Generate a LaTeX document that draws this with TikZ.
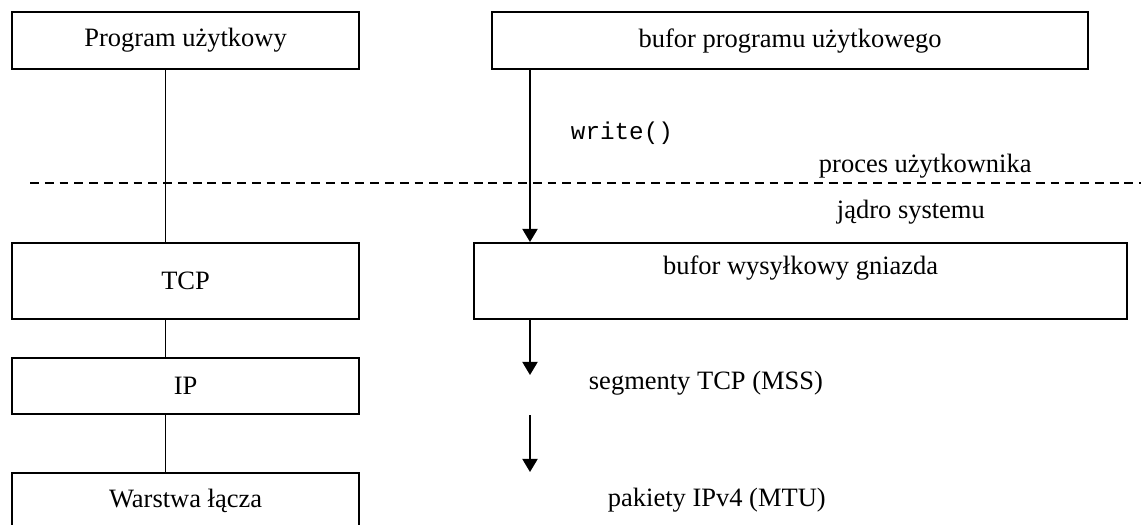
\documentclass[tikz,border=0pt]{standalone}
\usepackage{fontspec}
\setmainfont{Liberation Serif}
\setmonofont{Liberation Mono}
\usetikzlibrary{arrows.meta}

\begin{document}
\begin{tikzpicture}[x=0.453pt, y=-0.453pt, >={Triangle[length=5.9pt, width=6.8pt]}, line width=0.85pt]
  % Set the node styles
  \tikzset{layerbox/.style={draw, rectangle, line width=1pt, inner sep=0pt, anchor=north west, font=\fontsize{12}{14}\selectfont},
           note/.style={anchor=west, inner sep=0pt, font=\fontsize{12}{14}\selectfont}}

  \useasboundingbox (0,0) rectangle (1141,524);

  % Draw the layer boxes
  \foreach \name/\x/\y/\w/\h/\label in {prog/11/11/347/57/Program użytkowy,
      bufapp/491/11/596/57/bufor programu użytkowego,
      tcp/11/242/347/76/TCP, ip/11/357/347/56/IP, link/11/472/347/56/Warstwa łącza}{
    \node[layerbox, minimum width=\w*0.453pt, minimum height=\h*0.453pt] (\name) at (\x,\y) {\label};
  }
  \node[layerbox, minimum width=653*0.453pt, text height=14pt, text depth=20.4pt] (bufsock) at (473,242) {bufor wysyłkowy gniazda};

  % Draw the labels
  \node[note, font=\fontsize{11}{13}\selectfont\ttfamily] (write) at (570,133) {write()};
  \node[note] (user) at (818,166) {proces użytkownika};
  \node[note] (kernel) at (836,212) {jądro systemu};
  \node[note] (seg) at (588,383) {segmenty TCP (MSS)};
  \node[note] (pkt) at (607,500) {pakiety IPv4 (MTU)};

  % Separate user space from kernel
  \coordinate (sepL) at (30,183);
  \coordinate (sepR) at (1141,183);
  \draw[dash pattern=on 4pt off 2.7pt] (sepL) -- (sepR);

  % Connect the stack and the data flow
  \coordinate (spine) at (165.5,0);
  \coordinate (flow) at (530,0);
  \coordinate (segtip) at (530,375);
  \draw (prog.south -| spine) -- (tcp.north -| spine);
  \draw (tcp.south -| spine) -- (ip.north -| spine);
  \draw (ip.south -| spine) -- (link.north -| spine);
  \draw[->] (bufapp.south -| flow) -- (bufsock.north -| flow);
  \draw[->] (bufsock.south -| flow) -- (segtip);
  \draw[->] (ip.south -| flow) -- (link.north -| flow);
\end{tikzpicture}
\end{document}
